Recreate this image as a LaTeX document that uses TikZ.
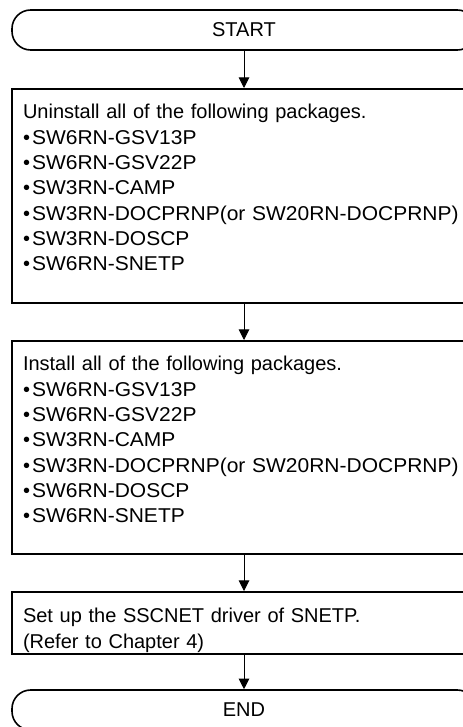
\documentclass[tikz,border=0pt]{standalone}
\usepackage{fontspec}
\setmainfont{Liberation Sans}
\newfontfamily\pkgfont{Liberation Sans}[FakeStretch=1.05]
\usetikzlibrary{arrows.meta,positioning}

\tikzset{
  term/.style={draw, line width=1.2pt, rounded corners=14pt,
    minimum width=348pt, minimum height=30pt, inner sep=0pt},
  stepbox/.style={draw, line width=1.2pt, anchor=north, text width=331.5pt,
    align=left, inner xsep=8.25pt, inner ysep=0pt, text height=22.5pt},
  flow/.style={-{Triangle[width=8pt,length=8pt]}, line width=0.75pt}
}
\newcommand{\pkgitem}[1]{\textbullet\hspace{1.5pt}{\pkgfont #1}}

\begin{document}
\begin{tikzpicture}[
  x=0.75pt,
  y=-0.75pt,
  font=\fontsize{15}{19}\selectfont
]
  \useasboundingbox (0,0) rectangle (463,727);
  \clip (0,0) rectangle (463,727);

  % Terminals and steps
  \node[term] (start) at (244,30) {START};

  \node[stepbox, text depth=138pt] (uninst) at (244,88)
    {Uninstall all of the following packages.\\
     \pkgitem{SW6RN-GSV13P}\\
     \pkgitem{SW6RN-GSV22P}\\
     \pkgitem{SW3RN-CAMP}\\
     \pkgitem{SW3RN-DOCPRNP(or SW20RN-DOCPRNP)}\\
     \pkgitem{SW3RN-DOSCP}\\
     \pkgitem{SW6RN-SNETP}};

  \node[stepbox, text depth=137.25pt] (inst) at (244,340)
    {Install all of the following packages.\\
     \pkgitem{SW6RN-GSV13P}\\
     \pkgitem{SW6RN-GSV22P}\\
     \pkgitem{SW3RN-CAMP}\\
     \pkgitem{SW3RN-DOCPRNP(or SW20RN-DOCPRNP)}\\
     \pkgitem{SW6RN-DOSCP}\\
     \pkgitem{SW6RN-SNETP}};

  \node[stepbox, text height=23.25pt, text depth=23.25pt] (setup) at (244,591)
    {Set up the SSCNET driver of SNETP.\\
     (Refer to Chapter 4)};

  \node[term] (end) at (244,710) {END};

  % Connectors
  \draw[flow] (start) -- (uninst);
  \draw[flow] (uninst) -- (inst);
  \draw[flow] (inst) -- (setup);
  \draw[flow] (setup) -- (end);
\end{tikzpicture}
\end{document}
